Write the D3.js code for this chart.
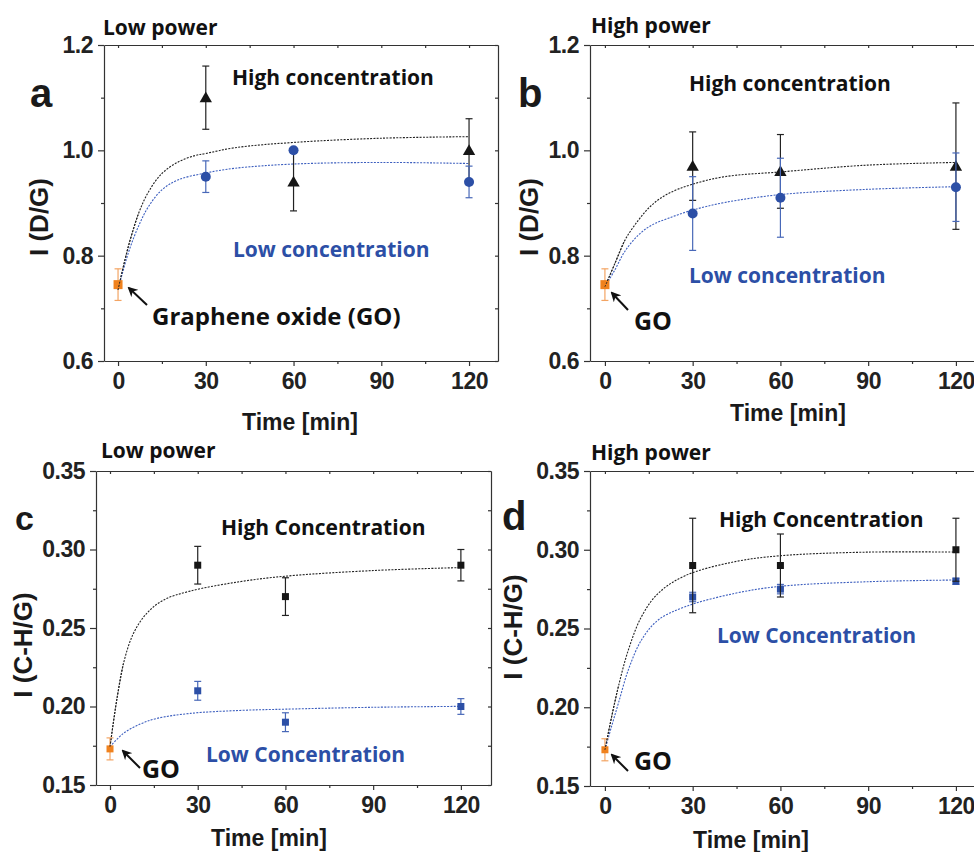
<!DOCTYPE html>
<html>
<head>
<meta charset="utf-8">
<script src="https://cdn.jsdelivr.net/npm/d3@7"></script>
<style>
  body { margin: 0; background: #fff; }
  svg { display: block; }
  .tick text { font-family: "Liberation Sans", Arial, sans-serif; font-weight: bold; font-size: 23px; fill: #222; letter-spacing: -0.5px; }
  .axis path, .axis line { stroke: #333; stroke-width: 1.2; }
  .note { font-family: "Open Sans", sans-serif; font-weight: 700; }
  .title { font-family: "Liberation Sans", Arial, sans-serif; font-weight: bold; fill: #1a1a1a; }
</style>
</head>
<body>
<svg id="chart" width="974" height="852"></svg>
<script>
// ---------- data ----------
const times = [30, 60, 120];
const xTicks = [0, 30, 60, 90, 120];
const xMinorTicks = [15, 45, 75, 105];
const dgTicks = [0.6, 0.8, 1.0, 1.2];
const dgMinorTicks = [0.7, 0.9, 1.1];
const chgTicks = [0.15, 0.20, 0.25, 0.30, 0.35];
const chgMinorTicks = [0.175, 0.225, 0.275, 0.325];

// graphene oxide reference (t = 0)
const goTime = 0;
const goDG = 0.745, goDGErr = 0.03;
const goCHG = 0.173, goCHGErr = 0.007;

// I(D/G), low power
const dgLowPowerHigh = [1.10, 0.94, 1.00];
const dgLowPowerHighErr = [0.06, 0.055, 0.06];
const dgLowPowerLow = [0.95, 1.00, 0.94];
const dgLowPowerLowErr = [0.03, 0.0, 0.03];
// I(D/G), high power
const dgHighPowerHigh = [0.97, 0.96, 0.97];
const dgHighPowerHighErr = [0.065, 0.07, 0.12];
const dgHighPowerLow = [0.88, 0.91, 0.93];
const dgHighPowerLowErr = [0.07, 0.075, 0.065];
// I(C-H/G), low power
const chgLowPowerHigh = [0.29, 0.27, 0.29];
const chgLowPowerHighErr = [0.012, 0.012, 0.01];
const chgLowPowerLow = [0.21, 0.19, 0.20];
const chgLowPowerLowErr = [0.006, 0.006, 0.005];
// I(C-H/G), high power
const chgHighPowerHigh = [0.29, 0.29, 0.30];
const chgHighPowerHighErr = [0.03, 0.02, 0.02];
const chgHighPowerLow = [0.27, 0.275, 0.28];
const chgHighPowerLowErr = [0.003, 0.003, 0.002];

// fitted growth curves [time, value]
const fitDgLowPowerHigh = [[0,0.735],[3.5,0.817],[7,0.880],[10.4,0.921],[15,0.956],[20.6,0.978],[26.3,0.990],[30,0.994],[40,1.005],[60,1.015],[90,1.023],[120,1.026]];
const fitDgLowPowerLow  = [[0,0.735],[3.5,0.805],[7,0.856],[10.4,0.893],[15,0.925],[20.6,0.944],[30,0.957],[40,0.966],[60,0.974],[90,0.977],[120,0.975]];
const fitDgHighPowerHigh = [[0,0.741],[3.4,0.785],[6.8,0.829],[11.4,0.867],[16,0.896],[21.7,0.918],[29.6,0.935],[41,0.950],[60,0.959],[90,0.972],[120,0.977]];
const fitDgHighPowerLow  = [[0,0.741],[3.4,0.773],[6.8,0.808],[11.4,0.839],[16,0.858],[21.7,0.871],[29.6,0.886],[41,0.901],[60,0.916],[90,0.926],[120,0.931]];
const fitChgLowPowerHigh = [[0,0.1744],[2.3,0.2041],[4.6,0.2274],[8,0.2465],[12.5,0.2592],[18.2,0.2677],[27.4,0.2735],[44.4,0.2795],[60,0.2830],[90,0.2866],[120,0.2885]];
const fitChgLowPowerLow  = [[0,0.1744],[4.6,0.1829],[10.3,0.1888],[16,0.1924],[27.4,0.1956],[44.4,0.1975],[60,0.1983],[90,0.1995],[120,0.2001]];
const fitChgHighPowerHigh = [[0,0.1729],[2.3,0.1940],[4.6,0.2131],[8,0.2363],[12.5,0.2575],[18.2,0.2723],[27.4,0.2835],[44.4,0.2924],[60,0.2962],[90,0.2985],[120,0.2985]];
const fitChgHighPowerLow  = [[0,0.1729],[2.3,0.1880],[4.6,0.2025],[8,0.2237],[12.5,0.2427],[18.2,0.2554],[27.4,0.2638],[44.4,0.2723],[60,0.2768],[90,0.2797],[120,0.2808]];

// ---------- styling ----------
const BLACK = "#161616", BLUE = "#2c4fa6", BLUE_LINE = "#3d5fbf", BLUE_ERR = "#4868b8";
const ORANGE = "#f0821e", ORANGE_ERR = "#f3a463";

const svg = d3.select("#chart");
svg.append("rect").attr("width", 974).attr("height", 852).attr("fill", "#fff");

svg.append("defs").append("marker")
  .attr("id", "arrowhead").attr("viewBox", "0 0 10 10")
  .attr("refX", 8).attr("refY", 5).attr("markerWidth", 5).attr("markerHeight", 5)
  .attr("orient", "auto")
  .append("path").attr("d", "M0,0 L10,5 L0,10 L3,5 Z").attr("fill", "#111");

const panels = [
  {
    letter: "a", box: [104, 498, 45, 361], xDomain: [-4.8, 129.9], yDomain: [0.6, 1.2],
    yTicks: dgTicks, yMinor: dgMinorTicks, fmt: d3.format(".1f"),
    go: [goDG, goDGErr], goSize: 9,
    high: [dgLowPowerHigh, dgLowPowerHighErr], low: [dgLowPowerLow, dgLowPowerLowErr],
    fitHigh: fitDgLowPowerHigh, fitLow: fitDgLowPowerLow, marker: "shape",
    power: ["Low power", 103, 35], letterPos: [30, 107, 40],
    yTitle: ["I (D/G)", 48, 217], xTitle: [300, 430],
    highLabel: ["High concentration", 232, 85], lowLabel: ["Low concentration", 233, 257],
    goLabel: ["Graphene oxide (GO)", 152, 325, 24], arrow: [147, 305, 129, 288]
  },
  {
    letter: "b", box: [590, 984, 45, 361], xDomain: [-5.1, 129.6], yDomain: [0.6, 1.2],
    yTicks: dgTicks, yMinor: dgMinorTicks, fmt: d3.format(".1f"),
    go: [goDG, goDGErr], goSize: 9,
    high: [dgHighPowerHigh, dgHighPowerHighErr], low: [dgHighPowerLow, dgHighPowerLowErr],
    fitHigh: fitDgHighPowerHigh, fitLow: fitDgHighPowerLow, marker: "shape",
    power: ["High power", 591, 33], letterPos: [518, 107, 40],
    yTitle: ["I (D/G)", 538, 217], xTitle: [788, 421],
    highLabel: ["High concentration", 689, 91], lowLabel: ["Low concentration", 689, 283],
    goLabel: ["GO", 634, 330, 25], arrow: [628, 310, 612, 293]
  },
  {
    letter: "c", box: [96, 491, 471, 785], xDomain: [-4.79, 130.3], yDomain: [0.15, 0.35],
    yTicks: chgTicks, yMinor: chgMinorTicks, fmt: d3.format(".2f"),
    go: [goCHG, goCHGErr], goSize: 7,
    high: [chgLowPowerHigh, chgLowPowerHighErr], low: [chgLowPowerLow, chgLowPowerLowErr],
    fitHigh: fitChgLowPowerHigh, fitLow: fitChgLowPowerLow, marker: "square",
    power: ["Low power", 101, 458], letterPos: [15, 530, 34],
    yTitle: ["I (C-H/G)", 32, 645], xTitle: [269, 846],
    highLabel: ["High Concentration", 221, 535], lowLabel: ["Low Concentration", 206, 762],
    goLabel: ["GO", 142, 778, 25], arrow: [140, 768, 123, 751]
  },
  {
    letter: "d", box: [590, 984, 471, 786], xDomain: [-5.1, 129.6], yDomain: [0.15, 0.35],
    yTicks: chgTicks, yMinor: chgMinorTicks, fmt: d3.format(".2f"),
    go: [goCHG, goCHGErr], goSize: 7,
    high: [chgHighPowerHigh, chgHighPowerHighErr], low: [chgHighPowerLow, chgHighPowerLowErr],
    fitHigh: fitChgHighPowerHigh, fitLow: fitChgHighPowerLow, marker: "square",
    power: ["High power", 591, 460], letterPos: [502, 530, 40],
    yTitle: ["I (C-H/G)", 522, 627], xTitle: [751, 848],
    highLabel: ["High Concentration", 719, 527], lowLabel: ["Low Concentration", 717, 643],
    goLabel: ["GO", 634, 770, 25], arrow: [628, 771, 612, 755]
  }
];

function errorBars(g, x, y, pts, color, cap) {
  const eb = g.append("g").attr("stroke", color).attr("stroke-width", 1.2);
  pts.forEach(p => {
    if (!p.e) return;
    eb.append("line").attr("x1", x(p.t)).attr("x2", x(p.t)).attr("y1", y(p.v - p.e)).attr("y2", y(p.v + p.e));
    [p.v - p.e, p.v + p.e].forEach(v =>
      eb.append("line").attr("x1", x(p.t) - cap).attr("x2", x(p.t) + cap).attr("y1", y(v)).attr("y2", y(v)));
  });
}

function drawPanel(p) {
  const [L, R, T, B] = p.box;
  const x = d3.scaleLinear().domain(p.xDomain).range([L, R]);
  const y = d3.scaleLinear().domain(p.yDomain).range([B, T]);
  const g = svg.append("g");

  // frame and ticks
  const ax = g.append("g").attr("class", "axis");
  ax.append("g").attr("transform", `translate(0,${B})`)
    .call(d3.axisBottom(x).tickValues(xTicks).tickSize(5).tickSizeOuter(0).tickPadding(7).tickFormat(d3.format("d")));
  ax.append("g").attr("transform", `translate(0,${B})`)
    .call(d3.axisBottom(x).tickValues(xMinorTicks).tickSize(3).tickFormat(""))
    .call(s => s.select(".domain").remove());
  ax.append("g").attr("transform", `translate(${L},0)`)
    .call(d3.axisLeft(y).tickValues(p.yTicks).tickSize(6).tickSizeOuter(0).tickPadding(5).tickFormat(p.fmt));
  ax.append("g").attr("transform", `translate(${L},0)`)
    .call(d3.axisLeft(y).tickValues(p.yMinor).tickSize(3).tickFormat(""))
    .call(s => s.select(".domain").remove());
  ax.append("g").attr("transform", `translate(0,${T})`)
    .call(d3.axisTop(x).tickValues(xTicks.concat(xMinorTicks)).tickSize(-3).tickSizeOuter(0).tickFormat(""));
  ax.append("g").attr("transform", `translate(${R},0)`)
    .call(d3.axisRight(y).tickValues(p.yTicks.concat(p.yMinor)).tickSize(-3).tickSizeOuter(0).tickFormat(""));

  // fitted curves
  const line = d3.line().x(d => x(d[0])).y(d => y(d[1])).curve(d3.curveCatmullRom.alpha(0.5));
  g.append("path").datum(p.fitHigh).attr("d", line).attr("fill", "none")
    .attr("stroke", "#222").attr("stroke-width", 1.1).attr("stroke-dasharray", "2 1.3");
  g.append("path").datum(p.fitLow).attr("d", line).attr("fill", "none")
    .attr("stroke", BLUE_LINE).attr("stroke-width", 1.1).attr("stroke-dasharray", "2 1.3");

  const highPts = times.map((t, i) => ({ t, v: p.high[0][i], e: p.high[1][i] }));
  const lowPts = times.map((t, i) => ({ t, v: p.low[0][i], e: p.low[1][i] }));

  const drawHigh = () => {
    errorBars(g, x, y, highPts, "#222", 3.5);
    if (p.marker === "shape") {
      g.selectAll(null).data(highPts).join("path")
        .attr("d", d3.symbol(d3.symbolTriangle, 66))
        .attr("transform", d => `translate(${x(d.t)},${y(d.v) + 1})`)
        .attr("fill", BLACK);
    } else {
      g.selectAll(null).data(highPts).join("rect")
        .attr("x", d => x(d.t) - 3.5).attr("y", d => y(d.v) - 3.5)
        .attr("width", 7).attr("height", 7).attr("fill", BLACK);
    }
  };
  const drawLow = () => {
    errorBars(g, x, y, lowPts, BLUE_ERR, 3.5);
    if (p.marker === "shape") {
      g.selectAll(null).data(lowPts).join("circle")
        .attr("cx", d => x(d.t)).attr("cy", d => y(d.v)).attr("r", 5)
        .attr("fill", BLUE);
    } else {
      g.selectAll(null).data(lowPts).join("rect")
        .attr("x", d => x(d.t) - 3.5).attr("y", d => y(d.v) - 3.5)
        .attr("width", 7).attr("height", 7).attr("fill", BLUE);
    }
  };
  if (p.marker === "shape") { drawHigh(); drawLow(); } else { drawLow(); drawHigh(); }

  // graphene oxide point
  errorBars(g, x, y, [{ t: goTime, v: p.go[0], e: p.go[1] }], ORANGE_ERR, 3.5);
  g.append("rect")
    .attr("x", x(goTime) - p.goSize / 2).attr("y", y(p.go[0]) - p.goSize / 2)
    .attr("width", p.goSize).attr("height", p.goSize).attr("fill", ORANGE);
  // fit start stays visible over the GO square
  g.append("path").datum(p.fitHigh.slice(0, 3)).attr("d", line).attr("fill", "none")
    .attr("stroke", "#222").attr("stroke-width", 1).attr("stroke-dasharray", "2 1.3");

  // text
  g.append("text").attr("class", "note").attr("x", p.power[1]).attr("y", p.power[2])
    .attr("font-size", 21).attr("fill", "#111").text(p.power[0]);
  g.append("text").attr("class", "title").attr("x", p.letterPos[0]).attr("y", p.letterPos[1])
    .attr("font-size", p.letterPos[2]).text(p.letter);
  g.append("text").attr("class", "title").attr("font-size", 26).attr("text-anchor", "middle")
    .attr("transform", `translate(${p.yTitle[1]},${p.yTitle[2]}) rotate(-90)`).text(p.yTitle[0]);
  g.append("text").attr("class", "title").attr("font-size", 23).attr("text-anchor", "middle")
    .attr("x", p.xTitle[0]).attr("y", p.xTitle[1]).text("Time [min]");
  g.append("text").attr("class", "note").attr("x", p.highLabel[1]).attr("y", p.highLabel[2])
    .attr("font-size", 21).attr("fill", "#111").text(p.highLabel[0]);
  g.append("text").attr("class", "note").attr("x", p.lowLabel[1]).attr("y", p.lowLabel[2])
    .attr("font-size", 21).attr("fill", BLUE).text(p.lowLabel[0]);
  g.append("text").attr("class", "note").attr("x", p.goLabel[1]).attr("y", p.goLabel[2])
    .attr("font-size", p.goLabel[3]).attr("fill", "#111").text(p.goLabel[0]);
  g.append("line")
    .attr("x1", p.arrow[0]).attr("y1", p.arrow[1]).attr("x2", p.arrow[2]).attr("y2", p.arrow[3])
    .attr("stroke", "#111").attr("stroke-width", 2).attr("marker-end", "url(#arrowhead)");
}

panels.forEach(drawPanel);
</script>
</body>
</html>
